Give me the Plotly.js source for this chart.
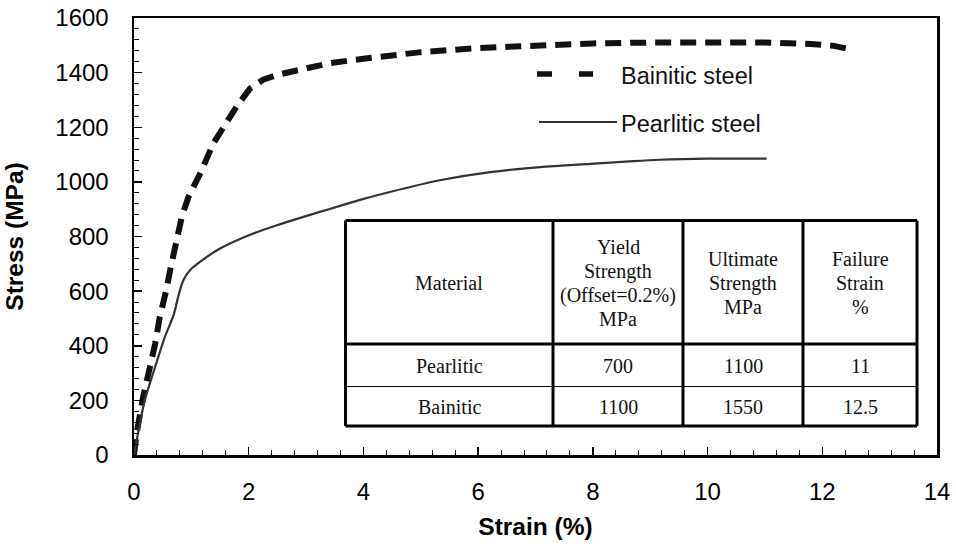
<!DOCTYPE html>
<html>
<head>
<meta charset="utf-8">
<script src="https://cdn.plot.ly/plotly-3.0.1.min.js"></script>
<style>html,body{margin:0;padding:0;background:#fff;}#chart{width:956px;height:549px;}</style>
</head>
<body>
<div id="chart"></div>
<script>
// ---- Data ----
var bainiticStrain = [0, 0.05, 0.16, 0.27, 0.37, 0.45, 0.51, 0.57, 0.63, 0.67, 0.75, 0.84, 0.95, 1.18, 1.38, 1.60, 1.79, 2.02, 2.25, 2.52, 2.92, 3.42, 4.0, 4.55, 5.0, 6.0, 7.0, 8.0, 9.0, 10.0, 11.0, 11.8, 12.2, 12.5];
var bainiticStress = [0, 85, 213, 305, 408, 506, 555, 610, 677, 713, 786, 878, 945, 1042, 1140, 1213, 1276, 1341, 1374, 1393, 1412, 1435, 1451, 1465, 1475, 1490, 1500, 1507, 1510, 1512, 1510, 1505, 1498, 1485];

var pearliticStrain = [0, 0.19, 0.37, 0.54, 0.69, 0.77, 0.86, 0.98, 1.15, 1.5, 2.08, 2.49, 3.24, 3.59, 3.94, 4.46, 5.33, 6.21, 7.08, 7.95, 8.7, 9.17, 10.0, 11.03];
var pearliticStress = [0, 201, 323, 433, 512, 579, 640, 677, 707, 756, 811, 841, 890, 912, 934, 963, 1006, 1036, 1054, 1066, 1076, 1081, 1085, 1085];

var seriesNames = ['Bainitic steel', 'Pearlitic steel'];

var tableHeader = ['Material', 'Yield<br>Strength<br>(Offset=0.2%)<br>MPa', 'Ultimate<br>Strength<br>MPa', 'Failure<br>Strain<br>%'];
var tableMaterials = ['Pearlitic', 'Bainitic'];
var tableYield = ['700', '1100'];
var tableUltimate = ['1100', '1550'];
var tableFailure = ['11', '12.5'];

// ---- Layout geometry (pixels) ----
var W = 956, H = 549;
var M = {l: 134, r: 19, t: 18, b: 94};
var PW = W - M.l - M.r, PH = H - M.t - M.b;
function px(x) { return (x - M.l) / PW; }
function py(y) { return 1 - (y - M.t) / PH; }

var traces = [
  {x: bainiticStrain, y: bainiticStress, mode: 'lines', name: seriesNames[0],
   line: {color: '#111', width: 6, dash: '16px,9px'}, showlegend: false, hoverinfo: 'x+y'},
  {x: pearliticStrain, y: pearliticStress, mode: 'lines', name: seriesNames[1],
   line: {color: '#333', width: 2.2, shape: 'spline', smoothing: 0.8}, showlegend: false, hoverinfo: 'x+y'}
];

var shapes = [];
var annotations = [];

// Custom legend
var legFont = {family: 'Liberation Sans, Arial', size: 23.5, color: '#111'};
shapes.push({type: 'line', xref: 'paper', yref: 'paper', x0: px(537), x1: px(593), y0: py(74), y1: py(74),
  line: {color: '#111', width: 5.5, dash: '15px,27px'}});
shapes.push({type: 'line', xref: 'paper', yref: 'paper', x0: px(539), x1: px(617), y0: py(122), y1: py(122),
  line: {color: '#333', width: 1.8}});
annotations.push({xref: 'paper', yref: 'paper', x: px(619), y: py(76), xanchor: 'left', yanchor: 'middle',
  text: seriesNames[0], showarrow: false, font: legFont});
annotations.push({xref: 'paper', yref: 'paper', x: px(619), y: py(124), xanchor: 'left', yanchor: 'middle',
  text: seriesNames[1], showarrow: false, font: legFont});

// Table
var tL = 345.5, tR = 917, tT = 220.5, tH = 344, tD = 386.5, tB = 426;
var colX = [tL, 553, 683, 803, tR];
function hline(y, w) { shapes.push({type: 'line', xref: 'paper', yref: 'paper', x0: px(tL), x1: px(tR), y0: py(y), y1: py(y), line: {color: '#000', width: w}}); }
function vline(x, w) { shapes.push({type: 'line', xref: 'paper', yref: 'paper', x0: px(x), x1: px(x), y0: py(tT), y1: py(tB), line: {color: '#000', width: w}}); }
shapes.push({type: 'rect', xref: 'paper', yref: 'paper', x0: px(tL), x1: px(tR), y0: py(tB), y1: py(tT), fillcolor: '#fff', line: {width: 0}, layer: 'above'});
hline(tT, 3); hline(tH, 3); hline(tD, 1.2); hline(tB, 3);
colX.forEach(function (x) { vline(x, 3); });

var rowY = [(tT + tH) / 2, (tH + tD) / 2, (tD + tB) / 2];
var lineGap = 24;
var tfont = {family: 'Liberation Serif, Times New Roman', size: 20, color: '#111'};
var rows = [tableHeader,
  [tableMaterials[0], tableYield[0], tableUltimate[0], tableFailure[0]],
  [tableMaterials[1], tableYield[1], tableUltimate[1], tableFailure[1]]];
rows.forEach(function (row, r) {
  row.forEach(function (txt, c) {
    var lines = txt.split('<br>');
    lines.forEach(function (ln, k) {
      var yc = rowY[r] + 1 + (k - (lines.length - 1) / 2) * lineGap;
      annotations.push({xref: 'paper', yref: 'paper', x: px((colX[c] + colX[c + 1]) / 2), y: py(yc),
        xanchor: 'center', yanchor: 'middle', text: ln, showarrow: false, font: tfont});
    });
  });
});

var tickFont = {family: 'Liberation Sans, Arial', size: 24, color: '#000'};
var titleFont = {family: 'Liberation Sans, Arial', size: 24.5, color: '#000'};
var layout = {
  width: W, height: H,
  margin: M,
  paper_bgcolor: '#fff', plot_bgcolor: '#fff',
  showlegend: false,
  xaxis: {
    range: [0, 14], dtick: 2, tick0: 0,
    ticks: 'inside', ticklen: 8, tickwidth: 1.5, tickcolor: '#000',
    minor: {dtick: 0.4, ticks: 'inside', ticklen: 5, tickwidth: 1, tickcolor: '#000'},
    showgrid: false, zeroline: false,
    showline: true, linewidth: 2.5, linecolor: '#000', mirror: true,
    tickfont: tickFont, ticklabelstandoff: 14,
    title: {text: '<b>Strain (%)</b>', font: titleFont, standoff: 14}
  },
  yaxis: {
    range: [0, 1600], dtick: 200, tick0: 0,
    ticks: 'inside', ticklen: 8, tickwidth: 1.5, tickcolor: '#000',
    minor: {dtick: 40, ticks: 'inside', ticklen: 5, tickwidth: 1, tickcolor: '#000'},
    showgrid: false, zeroline: false,
    showline: true, linewidth: 2.5, linecolor: '#000', mirror: true,
    tickfont: tickFont, ticklabelstandoff: 18,
    title: {text: '<b>Stress (MPa)</b>', font: titleFont, standoff: 25}
  },
  shapes: shapes,
  annotations: annotations
};

Plotly.newPlot('chart', traces, layout, {displayModeBar: false, staticPlot: true});
</script>
</body>
</html>
